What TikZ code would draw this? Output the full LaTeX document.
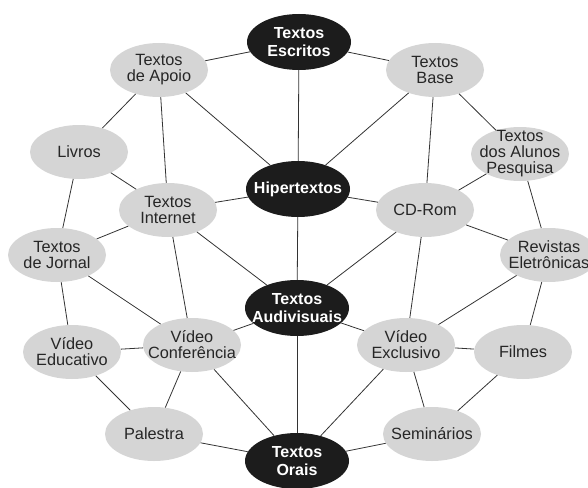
\documentclass[tikz,border=0pt]{standalone}
\usepackage{fontspec}
\setmainfont{Liberation Sans}
\usetikzlibrary{shapes.geometric}
\definecolor{gfill}{HTML}{D5D5D5}
\definecolor{bfill}{HTML}{1C1C1C}
\definecolor{ink}{HTML}{262626}
\definecolor{edge}{HTML}{333333}
\tikzset{
  gnode/.style={ellipse, fill=gfill, minimum width=98pt, minimum height=54pt, inner sep=0pt,
    label={[gtext]center:#1}},
  bnode/.style={ellipse, fill=bfill, minimum width=104pt, minimum height=56pt, inner sep=0pt,
    label={[btext]center:#1}},
  gtext/.style={align=center, text=ink, font=\fontsize{16.3pt}{16pt}\selectfont, inner sep=0pt},
  btext/.style={align=center, text=white, font=\bfseries\fontsize{16pt}{17.6pt}\selectfont, inner sep=0pt},
  link/.style={draw=edge, line width=0.8pt}
}
\begin{document}
\begin{tikzpicture}[x=1pt,y=-1pt]
\useasboundingbox (0,0) rectangle (588,487);
% black nodes
\node[bnode={Textos\\Escritos}] (esc) at (299,42) {};
\node[bnode={Hipertextos}] (hip) at (298,189) {};
\node[bnode={Textos\\Audivisuais}] (aud) at (297,308) {};
\node[bnode={Textos\\Orais}] (ora) at (297,461) {};
% gray nodes
\node[gnode={Textos\\de Apoio}] (apo) at (159,70) {};
\node[gnode={Textos\\Base}] (bas) at (435,70) {};
\node[gnode={Textos\\dos Alunos\\Pesquisa}] (alu) at (520,154) {};
\node[gnode={Livros}] (liv) at (79,152) {};
\node[gnode={Textos\\Internet}] (int) at (168,210) {};
\node[gnode={CD-Rom}] (cdr) at (425,210) {};
\node[gnode={Textos\\de Jornal}] (jor) at (57,255) {};
\node[gnode={Revistas\\Eletrônicas}] (rev) at (549,255) {};
\node[gnode={Vídeo\\Educativo}] (edu) at (72,352) {};
\node[gnode={Vídeo\\Conferência}] (con) at (192,345) {};
\node[gnode={Vídeo\\Exclusivo}] (exc) at (406,345) {};
\node[gnode={Filmes}] (fil) at (523,352) {};
\node[gnode={Palestra}] (pal) at (154,434) {};
\node[gnode={Seminários}] (sem) at (432,434) {};
% connectors
\foreach \a/\b in {esc/apo, esc/bas, esc/hip, apo/hip, apo/liv, apo/int,
  bas/hip, bas/cdr, bas/alu, alu/cdr, alu/rev, liv/int, liv/jor,
  int/hip, int/jor, int/aud, int/con, hip/cdr, hip/aud, cdr/rev, cdr/aud, cdr/exc,
  jor/edu, jor/con, aud/con, aud/exc, aud/ora, rev/exc, rev/fil,
  edu/con, edu/pal, con/pal, con/ora, exc/fil, exc/sem, exc/ora, fil/sem,
  pal/ora, sem/ora}
  \draw[link] (\a) -- (\b);
\end{tikzpicture}
\end{document}
